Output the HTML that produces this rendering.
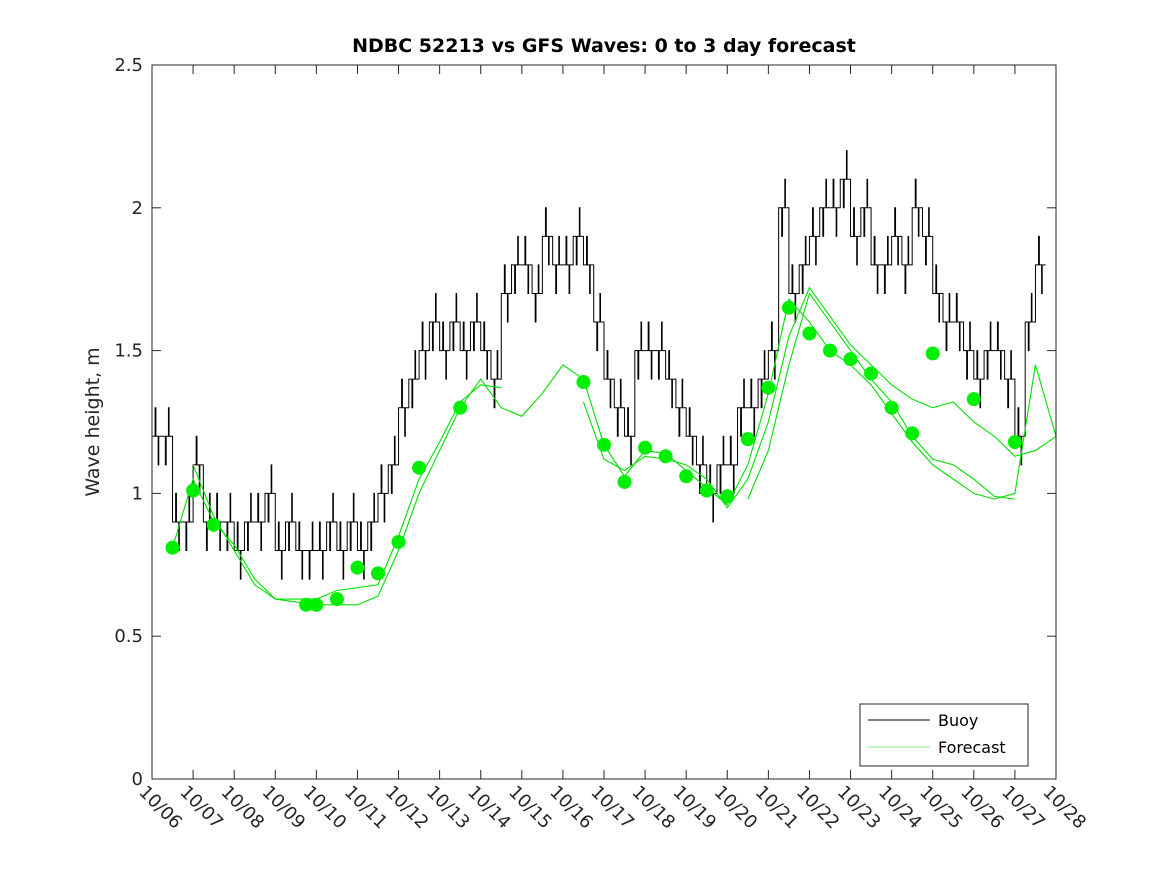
<!DOCTYPE html>
<html><head><meta charset="utf-8"><style>
body{margin:0;background:#fff;}
svg{display:block;font-family:"DejaVu Sans","Liberation Sans",sans-serif;}
</style></head><body>
<svg id="chart" width="1167" height="875">
<rect x="0" y="0" width="1167" height="875" fill="#fff"/>
<text x="604" y="52" text-anchor="middle" font-size="19" font-weight="bold" fill="#000">NDBC 52213 vs GFS Waves: 0 to 3 day forecast</text>
<text transform="translate(99,422) rotate(-90)" text-anchor="middle" font-size="19" fill="#262626">Wave height, m</text>
<g id="plot"></g>
<g id="axes"></g>
<g>
<rect x="860" y="704" width="168" height="62" fill="#fff" stroke="#262626" stroke-width="1"/>
<line x1="868" y1="720" x2="930" y2="720" stroke="#000" stroke-width="1"/>
<text x="938" y="726" font-size="16" fill="#000">Buoy</text>
<line x1="868" y1="747" x2="930" y2="747" stroke="#00e000" stroke-width="0.6"/>
<text x="938" y="753" font-size="16" fill="#000">Forecast</text>
</g>
</svg>
<script>
const xTickLabels=["10/06","10/07","10/08","10/09","10/10","10/11","10/12","10/13","10/14","10/15","10/16","10/17","10/18","10/19","10/20","10/21","10/22","10/23","10/24","10/25","10/26","10/27","10/28"];
const yTicks=[0,0.5,1,1.5,2,2.5];
const yTickLabels=["0","0.5","1","1.5","2","2.5"];
const buoyStart=6.0, buoyStep=0.25;
const buoyValues=[1.2,1.2,0.9,0.9,1.1,0.9,0.9,0.9,0.8,0.9,0.9,1.0,0.8,0.9,0.8,0.8,0.8,0.9,0.8,0.9,0.8,0.9,1.0,1.1,1.3,1.4,1.5,1.6,1.5,1.6,1.5,1.6,1.5,1.4,1.7,1.8,1.8,1.7,1.9,1.8,1.8,1.9,1.8,1.6,1.4,1.3,1.2,1.5,1.5,1.5,1.4,1.3,1.2,1.1,1.0,1.1,1.1,1.3,1.3,1.4,1.5,2.0,1.7,1.8,1.9,2.0,2.0,2.1,1.9,2.0,1.8,1.8,1.9,1.8,2.0,1.9,1.7,1.6,1.6,1.5,1.4,1.5,1.5,1.4,1.2,1.6,1.8];
const buoyFlicker=[0.1,0.1,0.1,0.1,0.1,0.1,0.1,0.1,0.1,0.1,0.1,0.1,0.1,0.1,0.1,0.1,0.1,0.1,0.1,0.1,0.1,0.1,0.1,0.1,0.1,0.1,0.1,0.1,0.1,0.1,0.1,0.1,0.1,0.1,0.1,0.1,0.1,0.1,0.1,0.1,0.1,0.1,0.1,0.1,0.1,0.1,0.1,0.1,0.1,0.1,0.1,0.1,0.1,0.1,0.1,0.1,0.1,0.1,0.1,0.1,0.1,0.1,0.1,0.1,0.1,0.1,0.1,0.1,0.1,0.1,0.1,0.1,0.1,0.1,0.1,0.1,0.1,0.1,0.1,0.1,0.1,0.1,0.1,0.1,0.1,0.1,0.1];
const f1Days=[6.5,7,7.5,8,8.5,9,9.5,10,10.5,11,11.5,12,12.5,13,13.5,14,14.5,15,15.5,16,16.5,17,17.5,18,18.5,19,19.5,20,20.5,21,21.5,22,22.5,23,23.5,24,24.5,25,25.5,26,26.5,27,27.5,28];
const f1Vals=[0.81,1.05,0.9,0.82,0.7,0.63,0.62,0.61,0.61,0.61,0.64,0.8,1.0,1.15,1.3,1.4,1.3,1.27,1.35,1.45,1.4,1.17,1.06,1.15,1.14,1.08,1.02,0.96,1.1,1.35,1.68,1.6,1.5,1.45,1.38,1.28,1.18,1.1,1.05,1.0,0.98,1.0,1.45,1.2];
const f2Days=[7,7.5,8,8.5,9,9.5,10,10.5,11,11.5,12,12.5,13,13.5,14,14.5];
const f2Vals=[1.1,0.92,0.8,0.68,0.63,0.63,0.63,0.66,0.67,0.68,0.85,1.05,1.18,1.32,1.38,1.37];
const f3Days=[16.5,17,17.5,18,18.5,19,19.5,20,20.5,21,21.5,22,22.5,23,23.5,24,24.5,25,25.5,26,26.5,27,27.5,28];
const f3Vals=[1.32,1.12,1.08,1.13,1.12,1.1,1.05,0.95,1.05,1.25,1.55,1.72,1.62,1.52,1.45,1.38,1.33,1.3,1.32,1.25,1.2,1.13,1.15,1.2];
const f4Days=[20.5,21,21.5,22,22.5,23,23.5,24,24.5,25,25.5,26,26.5,27];
const f4Vals=[0.98,1.15,1.45,1.7,1.6,1.5,1.4,1.32,1.2,1.12,1.1,1.05,0.99,0.98];
const dotDays=[6.5,7,7.5,9.75,10,10.5,11,11.5,12,12.5,13.5,16.5,17,17.5,18,18.5,19,19.5,20,20.5,21,21.5,22,22.5,23,23.5,24,24.5,25,26,27];
const dotVals=[0.81,1.01,0.89,0.61,0.61,0.63,0.74,0.72,0.83,1.09,1.3,1.39,1.17,1.04,1.16,1.13,1.06,1.01,0.99,1.19,1.37,1.65,1.56,1.5,1.47,1.42,1.3,1.21,1.49,1.33,1.18];

const X0=152,X1=1056,Y0=779,Y1=65;
const xs=d=>X0+(d-6)*(X1-X0)/22;
const ys=v=>Y0-v*(Y0-Y1)/2.5;
const NS="http://www.w3.org/2000/svg";
const plot=document.getElementById('plot'), axes=document.getElementById('axes');
function mk(t,a,p){const e=document.createElementNS(NS,t);for(const k in a)e.setAttribute(k,a[k]);p.appendChild(e);return e;}

// buoy step line with hourly flicker spikes
let d="";
buoyValues.forEach((v,i)=>{const x=xs(buoyStart+i*buoyStep),y=ys(v);
 if(i===0)d+=`M${x},${y}`;else d+=`V${y}`;
 const w=xs(buoyStart+buoyStep)-xs(buoyStart);
 const f=buoyFlicker[i]||0, sgn=(i%2===0)?1:-1;
 d+=`H${x+w*0.3}V${ys(v+sgn*f)}H${x+w*0.38}V${y}H${x+w*0.6}V${ys(v-sgn*f)}H${x+w*0.66}V${y}H${x+w}`;});
const bp=mk('path',{d:d,fill:'none',stroke:'#000','stroke-width':1},plot);



[[f1Days,f1Vals,'forecast-line-1'],[f2Days,f2Vals,'forecast-line-2'],[f3Days,f3Vals,'forecast-line-3'],[f4Days,f4Vals,'forecast-line-4']].forEach(s=>{
 const pts=s[0].map((dd,i)=>xs(dd)+','+ys(s[1][i])).join(' ');
 const pl=mk('polyline',{points:pts,fill:'none',stroke:'#00e000','stroke-width':1.1},plot);
 
 
});
dotDays.forEach((dd,i)=>{
 const c=mk('circle',{cx:xs(dd),cy:ys(dotVals[i]),r:7,fill:'#00ee00'},plot);
 
 
});

mk('rect',{x:X0,y:Y1,width:X1-X0,height:Y0-Y1,fill:'none',stroke:'#262626','stroke-width':1},axes);
xTickLabels.forEach((lab,i)=>{
 const x=xs(6+i);
 mk('line',{x1:x,y1:Y0,x2:x,y2:Y0-9,stroke:'#262626'},axes);
 mk('line',{x1:x,y1:Y1,x2:x,y2:Y1+9,stroke:'#262626'},axes);
 const t=mk('text',{x:0,y:0,transform:`translate(${x-14},${Y0+14}) rotate(45)`,'font-size':18,fill:'#262626'},axes);
 t.textContent=lab;
 
 
});
yTicks.forEach((v,i)=>{
 const y=ys(v);
 mk('line',{x1:X0,y1:y,x2:X0+9,y2:y,stroke:'#262626'},axes);
 mk('line',{x1:X1,y1:y,x2:X1-9,y2:y,stroke:'#262626'},axes);
 const t=mk('text',{x:X0-9,y:y+6,'text-anchor':'end','font-size':18,fill:'#262626'},axes);
 t.textContent=yTickLabels[i];
 
 
});
</script>
</body></html>
